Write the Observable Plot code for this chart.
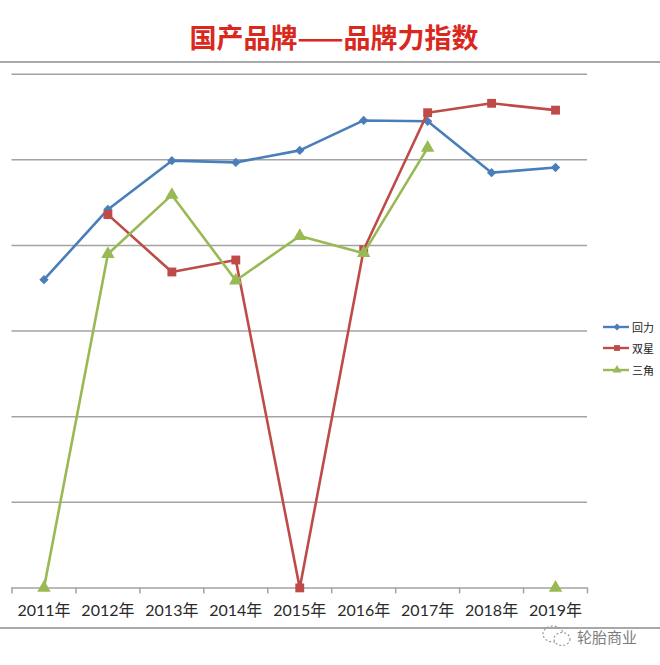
<!DOCTYPE html>
<html>
<head>
<meta charset="utf-8">
<script src="https://cdn.jsdelivr.net/npm/d3@7"></script>
<script src="https://cdn.jsdelivr.net/npm/@observablehq/plot@0.6"></script>
<style>
  body { margin: 0; background: #fff; }
  #wrap { position: relative; width: 660px; height: 665px; overflow: hidden; font-family: "Noto Sans CJK SC", sans-serif; }
  #title { height: 38px; padding-top: 23px; padding-left: 8px; text-align: center; color: #d9281e; font-weight: 700; font-size: 27px; line-height: 27px; font-family: "Noto Sans CJK SC", sans-serif; }
  #chart { border-top: 2px solid #a8a8a8; border-bottom: 2px solid #a8a8a8; width: 660px; height: 564px; }
  #chart svg { display: block; }
  #legend { position: absolute; left: 602px; top: 316px; font-size: 11px; color: #222; font-family: "Noto Sans CJK SC", sans-serif; }
  #legend .row { display: flex; align-items: center; height: 21.5px; }
  #legend svg { margin-right: 2px; }
  #wm { position: absolute; left: 540px; top: 624px; display: flex; align-items: center; color: #7c7c7c; font-size: 15px; font-family: "Noto Sans CJK SC", sans-serif; text-shadow: 0 0 2px #fff, 0 0 2px #fff; }
</style>
</head>
<body>
<div id="wrap">
  <div id="title">国产品牌——品牌力指数</div>
  <div id="chart"></div>
  <div id="legend"></div>
  <div id="wm"></div>
</div>
<script>
// ---- data ----
const years = [2011, 2012, 2013, 2014, 2015, 2016, 2017, 2018, 2019];
const seriesNames = ["回力", "双星", "三角"];
const huili      = [36.0, 44.2, 49.9, 49.7, 51.1, 54.6, 54.5, 48.5, 49.1];
const shuangxing = [null, 43.6, 36.9, 38.3, 0.0, 39.5, 55.5, 56.6, 55.8];
const sanjiao    = [0.0, 39.0, 45.9, 35.9, 41.1, 39.1, 51.4, null, 0.0];
const yTicks = [10, 20, 30, 40, 50, 60];
const colors = ["#4a7ebb", "#be4b48", "#98b954"];
const symbols = ["diamond2", "square", "triangle"];

const seriesValues = [huili, shuangxing, sanjiao];
const rows = [];
seriesNames.forEach((s, k) => {
  years.forEach((yr, i) => rows.push({ year: yr, series: s, value: seriesValues[k][i] }));
});
const boundaries = [...years.map(y => y - 0.5), years[years.length - 1] + 0.5];

const marks = [
  Plot.ruleY(yTicks, { stroke: "#a3a3a3", strokeWidth: 1.5 }),
  Plot.ruleY([0], { stroke: "#a3a3a3", strokeWidth: 1.5 }),
  Plot.axisX(boundaries, { tickSize: 6, tickFormat: () => "", stroke: "#a3a3a3", strokeWidth: 1.5 }),
  Plot.axisX(years, { tickSize: 0, tickPadding: 17, tickFormat: d => d + "年", fontSize: 16, fill: "#2a2a2a", fontFamily: "Lato, 'Noto Sans CJK SC', sans-serif" })
];
seriesNames.forEach((s, k) => {
  const d = rows.filter(r => r.series === s);
  marks.push(Plot.line(d, { x: "year", y: "value", stroke: colors[k], strokeWidth: 2.6 }));
  marks.push(Plot.dot(d.filter(r => r.value != null), { x: "year", y: "value", symbol: symbols[k], fill: colors[k], r: k === 0 ? 4.2 : 5 }));
});

const chart = Plot.plot({
  width: 660,
  height: 564,
  marginTop: 10.7,
  marginBottom: 39.6,
  marginLeft: 11.5,
  marginRight: 73,
  x: { type: "linear", domain: [years[0] - 0.5, years[years.length - 1] + 0.5], label: null },
  y: { domain: [0, 60], axis: null },
  style: { background: "transparent", overflow: "visible" },
  marks
});
document.getElementById("chart").appendChild(chart);

// legend
const legend = document.getElementById("legend");
seriesNames.forEach((s, k) => {
  const row = document.createElement("div");
  row.className = "row";
  const sym = d3.symbol().type([d3.symbolDiamond2, d3.symbolSquare, d3.symbolTriangle][k]).size(k === 0 ? 30 : 34)();
  row.innerHTML = `<svg width="28" height="12"><line x1="1" x2="27" y1="6" y2="6" stroke="${colors[k]}" stroke-width="2.4"/><path d="${sym}" transform="translate(15,6)" fill="${colors[k]}"/></svg><span>${s}</span>`;
  legend.appendChild(row);
});

// watermark
document.getElementById("wm").innerHTML =
  `<svg width="34" height="24" style="margin-right:3px"><ellipse cx="13" cy="10" rx="10" ry="8" fill="none" stroke="#999" stroke-width="1.2" stroke-dasharray="2 2"/><ellipse cx="22" cy="15" rx="8" ry="6.5" fill="#fff" stroke="#999" stroke-width="1.2" stroke-dasharray="2 2"/></svg><span>轮胎商业</span>`;
</script>
</body>
</html>
